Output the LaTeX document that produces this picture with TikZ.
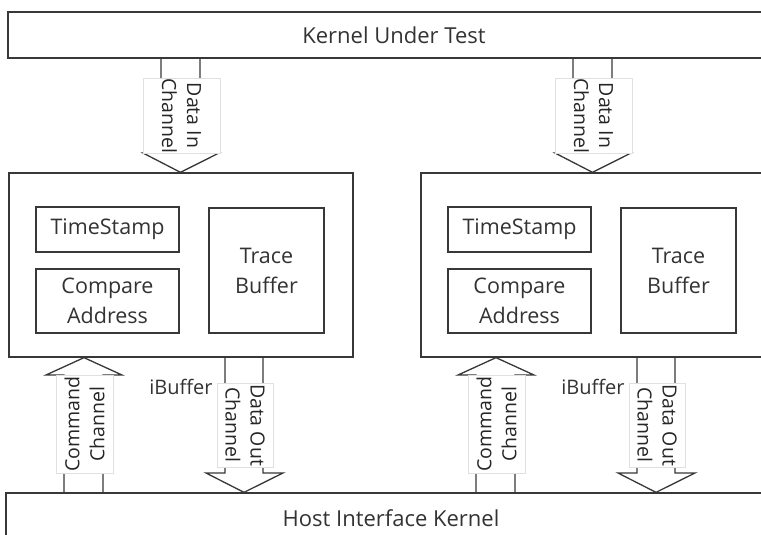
\documentclass[tikz,border=0pt]{standalone}
\usepackage{fontspec}
\setmainfont{Open Sans}
\begin{document}
\begin{tikzpicture}[x=1pt,y=-1pt,
  line/.style={draw=black!78,line width=1.3pt},
  blk/.style={line,rectangle,inner sep=0pt,font=\fontsize{21.5}{30}\selectfont,text=black!80,align=center},
  big/.style={blk,font=\fontsize{22}{30}\selectfont},
  lab/.style={rectangle,fill=white,draw=black!12,line width=0.6pt,inner sep=0pt,font=\fontsize{19.5}{25}\selectfont,text=black!85,align=center},
  plain/.style={inner sep=0pt,font=\fontsize{20}{24}\selectfont,text=black!80}]
\clip (0,0) rectangle (761,535);
\fill[white] (0,0) rectangle (761,535);
\node[big,minimum width=772pt,minimum height=46pt] (kut) at (394,35) {\raisebox{-1.5pt}{Kernel Under Test}};
\node[big,minimum width=770pt,minimum height=50pt] (host) at (391,518) {Host Interface Kernel};
\newcommand\drawunit[2]{%
\begin{scope}[xshift=#2]
\node[blk,minimum width=344pt,minimum height=184pt] (#1unit) at (181,265) {};
\node[blk,minimum width=143pt,minimum height=45pt] (#1ts) at (107.5,229.5) {TimeStamp};
\node[blk,minimum width=143pt,minimum height=64pt] (#1ca) at (107.5,301) {Compare\\Address};
\node[blk,minimum width=115pt,minimum height=125pt] (#1tb) at (266.5,270.5) {Trace\\Buffer};
\node[plain] (#1ib) at (181,387) {iBuffer};
% data in
\draw[line,line join=miter] (161,0 |- kut.south) -- (161,153) -- (143,153) -- (180.5,0 |- #1unit.north) -- (219,153) -- (200,153) -- (200,0 |- kut.south);
\node[lab,minimum width=55pt,minimum height=77pt,rotate=-90] (#1din) at (181.5,115.5) {Data In\\Channel};
% command
\draw[line,line join=miter] (64,0 |- host.north) -- (64,375) -- (46,375) -- (84,0 |- #1unit.south) -- (122,375) -- (103,375) -- (103,0 |- host.north);
\node[lab,minimum width=98pt,minimum height=57pt,rotate=90] (#1cmd) at (84.5,424) {Command\\Channel};
% data out
\draw[line,line join=miter] (225,0 |- #1unit.south) -- (225,473) -- (206,473) -- (244,0 |- host.north) -- (283,473) -- (263,473) -- (263,0 |- #1unit.south);
\node[lab,minimum width=84pt,minimum height=56pt,rotate=-90] (#1dout) at (245,425) {Data Out\\Channel};
\end{scope}}
\drawunit{L}{0}
\drawunit{R}{412}
\end{tikzpicture}
\end{document}
